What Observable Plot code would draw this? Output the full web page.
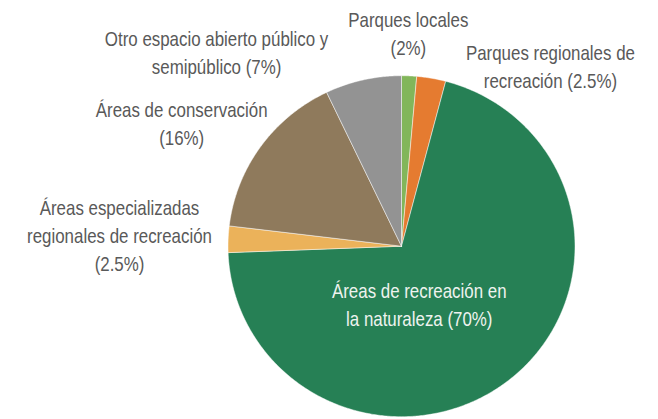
<!DOCTYPE html>
<html>
<head>
<meta charset="utf-8">
<script src="https://cdn.jsdelivr.net/npm/d3@7"></script>
<script src="https://cdn.jsdelivr.net/npm/@observablehq/plot@0.6"></script>
<style>
  html, body { margin: 0; padding: 0; background: #fff; }
  #chart svg { display: block; }
</style>
</head>
<body>
<div id="chart"></div>
<script>
// ---- Data (clockwise from 12 o'clock) ----
const categories = [
  "Parques locales",
  "Parques regionales de recreación",
  "Áreas de recreación en la naturaleza",
  "Áreas especializadas regionales de recreación",
  "Áreas de conservación",
  "Otro espacio abierto público y semipúblico"
];
const shares = [1.4, 2.7, 70.3, 2.5, 16.0, 7.1];
const labels = [
  "Parques locales\n(2%)",
  "Parques regionales de\nrecreación (2.5%)",
  "Áreas de recreación en\nla naturaleza (70%)",
  "Áreas especializadas\nregionales de recreación\n(2.5%)",
  "Áreas de conservación\n(16%)",
  "Otro espacio abierto público y\nsemipúblico (7%)"
];

// ---- Styles / layout ----
const colors = ["#82B65A", "#E57B30", "#268055", "#EBB25A", "#8F7A5C", "#939393"];
// label placement: radius (in pie radii) and angle (deg, clockwise from top)
const labelRadius = [1.254, 1.364, 0.35, 1.627, 1.46, 1.563];
const labelAngle  = [1.8, 39.0, 163.0, 272.6, 299.8, 317.0];
const labelColor  = ["#595959", "#595959", "#EEF3EF", "#595959", "#595959", "#595959"];
const textSqueeze = 0.845;

// ---- Build slice polygons from the shares ----
const pie = d3.pie().sort(null).value(d => d)(shares);
const polys = [];
pie.forEach((p, i) => {
  const a0 = p.startAngle, a1 = p.endAngle;
  const n = Math.max(2, Math.ceil((a1 - a0) / (Math.PI / 360)));
  polys.push({name: categories[i], x: 0, y: 0});
  for (let k = 0; k <= n; k++) {
    const a = a0 + (a1 - a0) * k / n;
    polys.push({name: categories[i], x: Math.sin(a), y: Math.cos(a)});
  }
  polys.push({name: categories[i], x: 0, y: 0});
});

const labelData = labels.map((t, i) => {
  const a = labelAngle[i] * Math.PI / 180;
  return {text: t, x: labelRadius[i] * Math.sin(a), y: labelRadius[i] * Math.cos(a), c: labelColor[i]};
});

const chart = Plot.plot({
  width: 658,
  height: 419,
  margin: 0,
  style: {background: "#fff", fontFamily: "'Liberation Sans', Arial, sans-serif"},
  x: {domain: [-1, 1], range: [227.5, 574.5], axis: null},
  y: {domain: [-1, 1], range: [416.2, 75.2], axis: null},
  color: {type: "ordinal", domain: categories, range: colors},
  marks: [
    Plot.line(polys, {x: "x", y: "y", z: "name", fill: "name", stroke: "#ffffff", strokeWidth: 0.6, strokeOpacity: 0.8, curve: "linear"}),
    Plot.text(labelData, {x: "x", y: "y", text: "text", fill: "c", fontSize: 20, lineHeight: 1.4, textAnchor: "middle"})
  ]
});
// condense the label glyphs horizontally (narrow typeface look)
d3.select(chart).selectAll("g[aria-label='text'] text").attr("transform", function () {
  return (this.getAttribute("transform") || "") + ` scale(${textSqueeze},1)`;
});
document.getElementById("chart").appendChild(chart);
</script>
</body>
</html>
